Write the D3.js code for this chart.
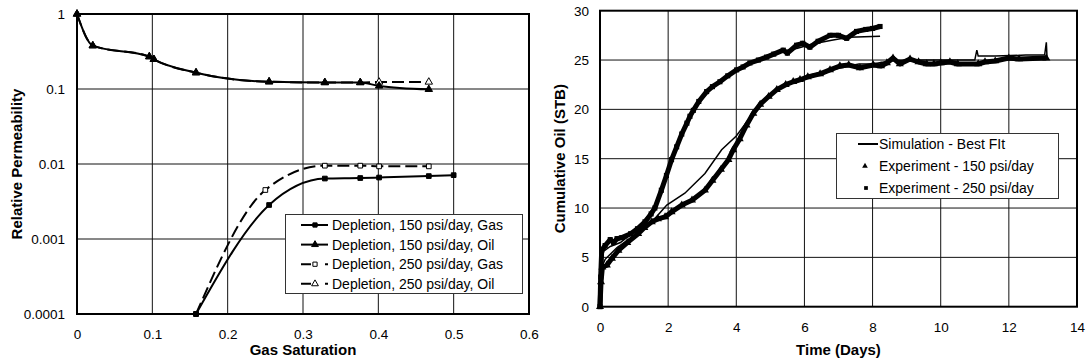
<!DOCTYPE html>
<html>
<head>
<meta charset="utf-8">
<title>Relative permeability / cumulative oil</title>
<script src="https://d3js.org/d3.v7.min.js"></script>
<style>
  body { margin: 0; background: #fff; }
  svg { display: block; font-family: "Liberation Sans", Arial, sans-serif; }
  .tick text { font-size: 13.5px; fill: #000; }
  .title { font-size: 15px; font-weight: bold; }
  .legend text { font-size: 14px; }
</style>
</head>
<body>
<script>
// ---- left chart: rel perm vs gas saturation ----
var satTicks = [0, 0.1, 0.2, 0.3, 0.4, 0.5, 0.6];
var krTicks = [1, 0.1, 0.01, 0.001, 0.0001];

// [gas saturation, kr]
var gas150 = [[0.158, 0.0001], [0.255, 0.00284], [0.329, 0.0064], [0.376, 0.0065], [0.401, 0.0066], [0.467, 0.0069], [0.5, 0.0071]];
var oil150 = [[0, 1], [0.021, 0.378], [0.096, 0.27], [0.102, 0.249], [0.158, 0.165], [0.255, 0.125], [0.329, 0.122], [0.376, 0.122], [0.401, 0.11], [0.467, 0.099]];
var gas250 = [[0.158, 0.0001], [0.25, 0.0045], [0.329, 0.0095], [0.376, 0.0095], [0.401, 0.0093], [0.467, 0.0093]];
var oil250 = [[0, 1], [0.021, 0.378], [0.096, 0.27], [0.102, 0.249], [0.158, 0.165], [0.255, 0.125], [0.329, 0.122], [0.376, 0.122], [0.401, 0.124], [0.467, 0.124]];

var relLegend = ["Depletion, 150 psi/day, Gas", "Depletion, 150 psi/day, Oil", "Depletion, 250 psi/day, Gas", "Depletion, 250 psi/day, Oil"];

// ---- right chart: cumulative oil vs time ----
var dayTicks = [0, 2, 4, 6, 8, 10, 12, 14];
var oilTicks = [0, 5, 10, 15, 20, 25, 30];

// [days, STB]
var exp250 = [[0, 0], [0.02, 3], [0.05, 5.7], [0.15, 6.2], [0.3, 6.8], [0.4, 6.5], [0.5, 6.9], [0.64, 7.0], [0.9, 7.4], [1.1, 7.9],
  [1.32, 8.6], [1.5, 9.4], [1.61, 10.0], [1.8, 11.8], [1.95, 13.3], [2.1, 14.9], [2.25, 16.2], [2.4, 17.5], [2.55, 18.6], [2.64, 19.3],
  [2.74, 19.9], [2.9, 20.8], [3.13, 21.8], [3.3, 22.3], [3.52, 22.8], [3.75, 23.4], [4.01, 24.0], [4.2, 24.3], [4.4, 24.7], [4.65, 25.0],
  [4.89, 25.3], [5.1, 25.6], [5.38, 26.0], [5.5, 25.7], [5.77, 26.5], [5.95, 26.7], [6.16, 26.3], [6.4, 26.9], [6.75, 27.5], [7.0, 27.5],
  [7.24, 27.2], [7.53, 27.9], [7.8, 28.1], [8.0, 28.2], [8.22, 28.4]];
var exp150 = [[0, 0], [0.03, 2.5], [0.07, 4.0], [0.2, 4.2], [0.35, 4.9], [0.54, 5.7], [0.8, 6.5], [1.12, 7.4], [1.3, 8.0], [1.52, 8.6],
  [1.7, 8.9], [1.91, 9.1], [2.1, 9.6], [2.4, 10.3], [2.7, 10.8], [3.08, 11.8], [3.3, 12.8], [3.55, 13.9], [3.77, 14.9], [3.91, 15.9],
  [4.1, 17.0], [4.3, 18.4], [4.5, 19.6], [4.7, 20.5], [4.95, 21.3], [5.19, 22.0], [5.45, 22.5], [5.67, 22.8], [5.87, 23.0], [6.1, 23.3],
  [6.46, 23.6], [6.75, 24.0], [7.04, 24.4], [7.3, 24.5], [7.63, 24.2], [8.02, 24.5], [8.25, 24.4], [8.42, 24.7], [8.6, 25.2], [8.8, 24.6],
  [9.1, 25.1], [9.35, 24.8], [9.59, 24.6], [9.8, 24.6], [10.0, 24.7], [10.27, 24.8], [10.5, 24.6], [11.1, 24.6], [11.3, 24.8], [11.6, 24.9],
  [12.0, 25.2], [12.3, 25.1], [13.1, 25.2]];
var sim250 = [[0, 0], [0.05, 4.5], [0.1, 5.6], [0.3, 6.1], [0.6, 6.5], [1.0, 7.6], [1.3, 8.7], [1.6, 10.2], [1.9, 12.9], [2.2, 15.7],
  [2.5, 18.3], [2.8, 20.2], [3.2, 21.9], [3.6, 23.0], [4.0, 23.9], [4.5, 24.8], [5.0, 25.5], [5.5, 26.0], [5.8, 26.2], [6.2, 26.6],
  [6.8, 27.0], [7.3, 27.3], [8.22, 27.4]];
var sim150 = [[0, 0], [0.05, 4.0], [0.15, 4.8], [0.5, 6.0], [1.0, 7.2], [1.5, 8.5], [1.96, 10.3], [2.49, 11.5], [3.08, 13.5], [3.57, 15.9],
  [4.0, 17.3], [4.3, 18.7], [4.7, 20.6], [5.2, 22.0], [5.7, 22.9], [6.2, 23.5], [6.8, 24.0], [7.3, 24.4], [7.6, 24.6], [8.0, 24.6],
  [8.5, 24.9], [9.0, 25.0], [9.7, 25.0], [10.5, 25.0], [11.0, 25.0], [11.06, 26.0], [11.1, 25.4], [11.6, 25.4], [12.5, 25.5], [13.05, 25.5],
  [13.1, 26.8], [13.12, 25.3]];

var cumLegend = ["Simulation - Best FIt", "Experiment - 150 psi/day", "Experiment - 250 psi/day"];

var svg = d3.select("body").append("svg")
    .attr("width", 1086)
    .attr("height", 364);

var tri = d3.symbol().type(d3.symbolTriangle),
    sq = d3.symbol().type(d3.symbolSquare);

// ================= left =================
var x1 = d3.scaleLinear().domain([0, 0.6]).range([77, 529]);
var y1 = d3.scaleLog().domain([0.0001, 1]).range([314, 14]);

var g1 = svg.append("g");

g1.selectAll(".vgrid").data(satTicks.slice(1, -1)).enter().append("line")
    .attr("x1", function(d) { return x1(d); }).attr("x2", function(d) { return x1(d); })
    .attr("y1", 14).attr("y2", 314)
    .attr("stroke", "#111").attr("stroke-width", 1);
g1.selectAll(".hgrid").data(krTicks.slice(1, -1)).enter().append("line")
    .attr("y1", function(d) { return y1(d); }).attr("y2", function(d) { return y1(d); })
    .attr("x1", 77).attr("x2", 529)
    .attr("stroke", "#111").attr("stroke-width", 1);

g1.append("g").attr("transform", "translate(0,314)")
    .call(d3.axisBottom(x1).tickValues(satTicks).tickSize(0).tickPadding(15).tickFormat(function(d) { return String(d); }))
    .call(function(g) { g.select(".domain").remove(); });
g1.append("g").attr("transform", "translate(77,0)")
    .call(d3.axisLeft(y1).tickValues(krTicks).tickSize(0).tickPadding(12).tickFormat(function(d) { return String(d); }))
    .call(function(g) { g.select(".domain").remove(); });

var line1 = d3.line()
    .x(function(d) { return x1(d[0]); })
    .y(function(d) { return y1(d[1]); })
    .curve(d3.curveMonotoneX);

// dashed series first, solid ones drawn over them
var relSeries = [
  {data: gas250, dash: "12,5", sym: sq, size: 22, fill: "#fff"},
  {data: oil250, dash: "12,5", sym: tri, size: 24, fill: "#fff"},
  {data: gas150, dash: null, sym: sq, size: 22, fill: "#000"},
  {data: oil150, dash: null, sym: tri, size: 24, fill: "#000"}
];

relSeries.forEach(function(s) {
  g1.append("path")
      .attr("d", line1(s.data))
      .attr("fill", "none")
      .attr("stroke", "#000")
      .attr("stroke-width", 2)
      .attr("stroke-dasharray", s.dash);
  g1.selectAll(null).data(s.data).enter().append("path")
      .attr("transform", function(d) { return "translate(" + x1(d[0]) + "," + y1(d[1]) + ")"; })
      .attr("d", s.sym.size(s.size))
      .attr("fill", s.fill)
      .attr("stroke", "#000")
      .attr("stroke-width", 1);
});

g1.append("rect")
    .attr("x", 77).attr("y", 14).attr("width", 452).attr("height", 300)
    .attr("fill", "none").attr("stroke", "#000").attr("stroke-width", 2);

// legend
var lg1 = g1.append("g").attr("class", "legend");
lg1.append("rect")
    .attr("x", 285.5).attr("y", 214.5).attr("width", 237).attr("height", 79)
    .attr("fill", "#fff").attr("stroke", "#333").attr("stroke-width", 1);
var legKeys = [
  {dash: null, sym: sq, size: 18, fill: "#000"},
  {dash: null, sym: tri, size: 20, fill: "#000"},
  {dash: "10,14", sym: sq, size: 18, fill: "#fff"},
  {dash: "10,14", sym: tri, size: 20, fill: "#fff"}
];
relLegend.forEach(function(t, i) {
  var yy = 225 + i * 19.6;
  lg1.append("line").attr("x1", 301).attr("x2", 328).attr("y1", yy).attr("y2", yy)
      .attr("stroke", "#000").attr("stroke-width", 2).attr("stroke-dasharray", legKeys[i].dash);
  lg1.append("path").attr("transform", "translate(315," + yy + ")")
      .attr("d", legKeys[i].sym.size(legKeys[i].size))
      .attr("fill", legKeys[i].fill).attr("stroke", "#000").attr("stroke-width", 1);
  lg1.append("text").attr("x", 332).attr("y", yy + 5).text(t);
});

g1.append("text").attr("class", "title")
    .attr("x", 303).attr("y", 355).attr("text-anchor", "middle")
    .text("Gas Saturation");
g1.append("text").attr("class", "title")
    .attr("transform", "translate(22,164) rotate(-90)").attr("text-anchor", "middle")
    .text("Relative Permeability");

// ================= right =================
var x2 = d3.scaleLinear().domain([0, 14]).range([600, 1077]);
var y2 = d3.scaleLinear().domain([0, 30]).range([306.7, 10.7]);

var g2 = svg.append("g");

g2.selectAll(".vgrid").data(dayTicks.slice(1, -1)).enter().append("line")
    .attr("x1", function(d) { return x2(d); }).attr("x2", function(d) { return x2(d); })
    .attr("y1", y2(30)).attr("y2", y2(0))
    .attr("stroke", "#111").attr("stroke-width", 1);
g2.selectAll(".hgrid").data(oilTicks.slice(1, -1)).enter().append("line")
    .attr("y1", function(d) { return y2(d); }).attr("y2", function(d) { return y2(d); })
    .attr("x1", 600).attr("x2", 1077)
    .attr("stroke", "#111").attr("stroke-width", 1);

g2.append("g").attr("transform", "translate(0," + y2(0) + ")")
    .call(d3.axisBottom(x2).tickValues(dayTicks).tickSize(0).tickPadding(16))
    .call(function(g) { g.select(".domain").remove(); });
g2.append("g").attr("transform", "translate(600,0)")
    .call(d3.axisLeft(y2).tickValues(oilTicks).tickSize(0).tickPadding(11))
    .call(function(g) { g.select(".domain").remove(); });

var line2 = d3.line()
    .x(function(d) { return x2(d[0]); })
    .y(function(d) { return y2(d[1]); });

// experiments: dense marker bands
[{data: exp150, sym: tri, size: 28}, {data: exp250, sym: sq, size: 26}].forEach(function(s) {
  g2.append("path")
      .attr("d", line2(s.data))
      .attr("fill", "none").attr("stroke", "#000")
      .attr("stroke-width", 5).attr("stroke-linejoin", "round");
  g2.selectAll(null).data(s.data).enter().append("path")
      .attr("transform", function(d) { return "translate(" + x2(d[0]) + "," + y2(d[1]) + ")"; })
      .attr("d", s.sym.size(s.size))
      .attr("fill", "#000");
});

[sim150, sim250].forEach(function(s) {
  g2.append("path")
      .attr("d", line2(s))
      .attr("fill", "none").attr("stroke", "#000").attr("stroke-width", 1.5);
});

g2.append("rect")
    .attr("x", 600).attr("y", y2(30)).attr("width", 477).attr("height", y2(0) - y2(30))
    .attr("fill", "none").attr("stroke", "#000").attr("stroke-width", 2);

var lg2 = g2.append("g").attr("class", "legend");
lg2.append("rect")
    .attr("x", 836.5).attr("y", 133.5).attr("width", 222).attr("height", 65)
    .attr("fill", "#fff").attr("stroke", "#333").attr("stroke-width", 1);
lg2.append("line").attr("x1", 858).attr("x2", 878).attr("y1", 144).attr("y2", 144)
    .attr("stroke", "#000").attr("stroke-width", 2);
lg2.append("path").attr("transform", "translate(865,166)").attr("d", tri.size(14)).attr("fill", "#000");
lg2.append("path").attr("transform", "translate(866,188)").attr("d", sq.size(14)).attr("fill", "#000");
cumLegend.forEach(function(t, i) {
  lg2.append("text").attr("x", 879).attr("y", 149 + i * 22).text(t);
});

g2.append("text").attr("class", "title")
    .attr("x", 838.5).attr("y", 355).attr("text-anchor", "middle")
    .text("Time (Days)");
g2.append("text").attr("class", "title")
    .attr("transform", "translate(565,158.7) rotate(-90)").attr("text-anchor", "middle")
    .text("Cumulative Oil (STB)");
</script>
</body>
</html>
